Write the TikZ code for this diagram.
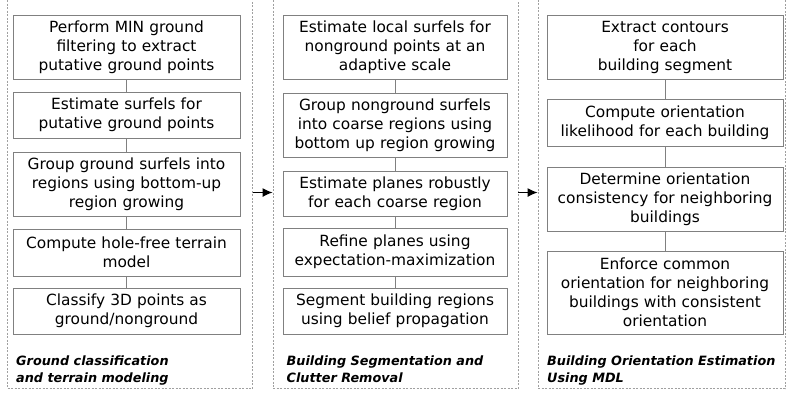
\documentclass[tikz,border=0pt]{standalone}
\usepackage{fontspec}
\setmainfont{DejaVu Sans}
\usetikzlibrary{arrows.meta}
\definecolor{boxgray}{HTML}{808080}
\definecolor{dashgray}{HTML}{A0A0A0}
\tikzset{
  panel/.style={draw=dashgray, line width=0.8pt, dash pattern=on 2pt off 1.5pt, inner sep=0pt},
  stepbox/.style={draw=boxgray, line width=0.9pt, fill=white, align=center, inner sep=0pt,
    font=\fontsize{15.4}{19}\selectfont},
  link/.style={draw=boxgray, line width=0.8pt},
  flow/.style={draw=black, line width=1.2pt, -{Latex[length=10pt,width=9pt]}},
  caption/.style={anchor=north west, align=left, inner sep=0pt,
    font=\fontsize{12.8}{17}\selectfont\bfseries\itshape}
}
\begin{document}
\begin{tikzpicture}[x=1pt,y=-1pt]
\useasboundingbox (0,0) rectangle (786,392);

% stage panels
\node[panel, minimum width=245pt, minimum height=392pt] (p1) at (130,192.5) {};
\node[panel, minimum width=245pt, minimum height=392pt] (p2) at (395.5,192.5) {};
\node[panel, minimum width=247pt, minimum height=392pt] (p3) at (661.5,192.5) {};

% stage 1: ground classification
\node[stepbox, minimum width=227pt, minimum height=64pt, text width=221pt] (a1) at (126.5,47)
  {Perform MIN ground\\filtering to extract\\putative ground points};
\node[stepbox, minimum width=227pt, minimum height=46pt, text width=221pt] (a2) at (126.5,115)
  {Estimate surfels for\\putative ground points};
\node[stepbox, minimum width=227pt, minimum height=64pt, text width=221pt] (a3) at (126.5,184)
  {Group ground surfels into\\regions using bottom-up\\region growing};
\node[stepbox, minimum width=227pt, minimum height=47pt, text width=221pt] (a4) at (126.5,252.5)
  {Compute hole-free terrain\\model};
\node[stepbox, minimum width=227pt, minimum height=46pt, text width=221pt] (a5) at (126.5,311)
  {Classify 3D points as\\ground/nonground};
\draw[link] (a1.south) -- (a2.north);
\draw[link] (a2.south) -- (a3.north);
\draw[link] (a3.south) -- (a4.north);
\draw[link] (a4.south) -- (a5.north);
\node[caption] (c1) at (16,355.5) {Ground classification\\and terrain modeling};

% stage 2: building segmentation
\node[stepbox, minimum width=224pt, minimum height=64pt, text width=218pt] (b1) at (395,47)
  {Estimate local surfels for\\nonground points at an\\adaptive scale};
\node[stepbox, minimum width=224pt, minimum height=64pt, text width=218pt] (b2) at (395,125)
  {Group nonground surfels\\into coarse regions using\\bottom up region growing};
\node[stepbox, minimum width=224pt, minimum height=45pt, text width=218pt] (b3) at (395,193.5)
  {Estimate planes robustly\\for each coarse region};
\node[stepbox, minimum width=224pt, minimum height=48pt, text width=218pt] (b4) at (395,252)
  {Refine planes using\\expectation-maximization};
\node[stepbox, minimum width=224pt, minimum height=46pt, text width=218pt] (b5) at (395,311)
  {Segment building regions\\using belief propagation};
\draw[link] (b1.south) -- (b2.north);
\draw[link] (b2.south) -- (b3.north);
\draw[link] (b3.south) -- (b4.north);
\draw[link] (b4.south) -- (b5.north);
\node[caption] (c2) at (286.5,355.5) {Building Segmentation and\\Clutter Removal};

% stage 3: orientation estimation
\node[stepbox, minimum width=236pt, minimum height=64pt, text width=230pt] (d1) at (665,47)
  {Extract contours\\for each\\building segment};
\node[stepbox, minimum width=236pt, minimum height=47pt, text width=230pt] (d2) at (665,122.5)
  {Compute orientation\\likelihood for each building};
\node[stepbox, minimum width=236pt, minimum height=64pt, text width=230pt] (d3) at (665,199)
  {Determine orientation\\consistency for neighboring\\buildings};
\node[stepbox, minimum width=236pt, minimum height=83pt, text width=230pt] (d4) at (665,292.5)
  {Enforce common\\orientation for neighboring\\buildings with consistent\\orientation};
\draw[link] (d1.south) -- (d2.north);
\draw[link] (d2.south) -- (d3.north);
\draw[link] (d3.south) -- (d4.north);
\node[caption] (c3) at (547,355.5) {Building Orientation Estimation\\Using MDL};

% flow between stages
\draw[flow] (p1.east) -- (p2.west);
\draw[flow] (p2.east) -- (p3.west);
\end{tikzpicture}
\end{document}
